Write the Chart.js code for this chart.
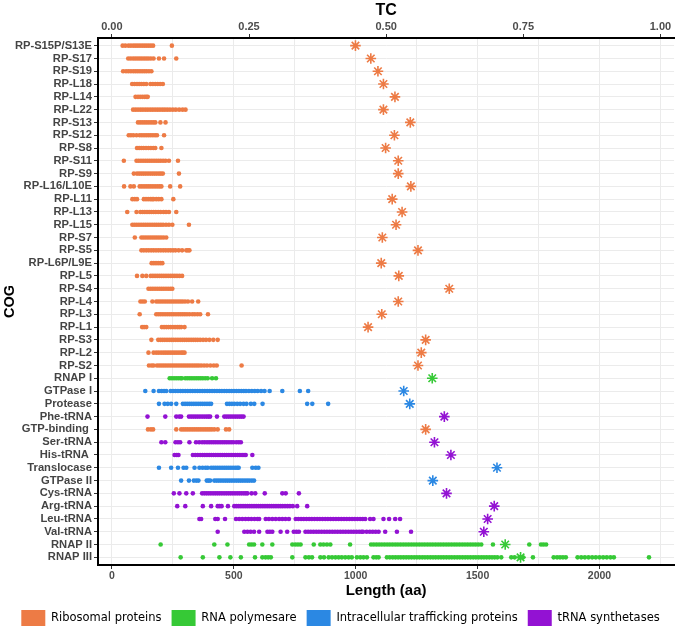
<!DOCTYPE html>
<html>
<head>
<meta charset="utf-8">
<script src="https://cdn.jsdelivr.net/npm/chart.js@4.4.1/dist/chart.umd.min.js"></script>
<style>
  body { margin: 0; background: #fff; }
</style>
</head>
<body>
<canvas id="cogChart" width="681" height="636"></canvas>
<script>
// COG rows, top to bottom
const cogs = ['RP-S15P/S13E', 'RP-S17', 'RP-S19', 'RP-L18', 'RP-L14', 'RP-L22', 'RP-S13', 'RP-S12',
    'RP-S8', 'RP-S11', 'RP-S9', 'RP-L16/L10E', 'RP-L11', 'RP-L13', 'RP-L15', 'RP-S7', 'RP-S5',
    'RP-L6P/L9E', 'RP-L5', 'RP-S4', 'RP-L4', 'RP-L3', 'RP-L1', 'RP-S3', 'RP-L2', 'RP-S2',
    'RNAP I', 'GTPase I', 'Protease', 'Phe-tRNA', 'GTP-binding ', 'Ser-tRNA', 'His-tRNA ',
    'Translocase', 'GTPase II', 'Cys-tRNA', 'Arg-tRNA', 'Leu-tRNA', 'Val-tRNA', 'RNAP II', 'RNAP III'];

// 0 ribosomal, 1 RNA polymerase, 2 trafficking, 3 tRNA synthetases
const cogGroups = [0, 0, 0, 0, 0, 0, 0, 0, 0, 0, 0, 0, 0, 0, 0, 0, 0, 0, 0, 0, 0, 0, 0, 0, 0, 0,
    1, 2, 2, 3, 0, 3, 3, 2, 2, 3, 3, 3, 3, 1, 1];

// TC per COG (top axis)
const tcValues = [0.444, 0.472, 0.485, 0.495, 0.516, 0.495, 0.544, 0.515, 0.499, 0.522, 0.522, 0.545,
    0.511, 0.529, 0.518, 0.493, 0.558, 0.491, 0.523, 0.615, 0.522, 0.492, 0.467, 0.572, 0.564, 0.558,
    0.584, 0.532, 0.543, 0.606, 0.572, 0.588, 0.618, 0.702, 0.585, 0.610, 0.697, 0.685, 0.678, 0.717, 0.745];

// protein lengths (aa) per COG
const lengths = [
    [44, 55, 68, 78, 88, 97, 106, 115, 124, 133, 142, 151, 160, 169, 246],
    [67, 77, 87, 96, 105, 114, 123, 132, 141, 150, 160, 171, 193, 214, 264],
    [46, 58, 68, 78, 88, 97, 106, 115, 124, 133, 142, 152, 162],
    [83, 93, 103, 112, 121, 131, 141, 158, 168, 178, 188, 198, 209],
    [97, 107, 116, 125, 134, 141, 147],
    [87, 97, 107, 117, 127, 137, 147, 157, 167, 177, 187, 197, 207, 217, 227, 238, 250, 262, 276, 290, 302],
    [107, 116, 125, 134, 143, 152, 161, 170, 178, 199, 220],
    [69, 78, 88, 101, 114, 123, 132, 141, 150, 159, 168, 177, 185, 214],
    [103, 112, 121, 130, 140, 150, 160, 170, 178, 203],
    [49, 101, 110, 119, 128, 137, 146, 155, 164, 173, 182, 191, 200, 210, 220, 234, 271],
    [90, 103, 112, 121, 130, 139, 148, 157, 166, 175, 184, 193, 201, 209, 275],
    [50, 76, 90, 114, 123, 132, 141, 150, 159, 168, 177, 186, 195, 203, 239, 280],
    [84, 94, 103, 131, 140, 149, 158, 165, 171, 182, 192, 203, 252],
    [63, 101, 117, 126, 135, 144, 153, 162, 171, 180, 190, 200, 212, 222, 234, 264],
    [84, 93, 102, 111, 120, 129, 138, 147, 156, 165, 174, 183, 192, 201, 210, 222, 234, 248, 316],
    [94, 121, 130, 139, 148, 157, 166, 175, 184, 193, 202, 212, 223],
    [121, 131, 141, 151, 161, 171, 181, 191, 201, 211, 221, 231, 241, 251, 261, 274, 288, 305, 312, 318],
    [163, 172, 181, 190, 199, 207],
    [103, 125, 141, 159, 168, 177, 186, 195, 204, 213, 222, 231, 240, 249, 258, 267, 277, 288],
    [150, 159, 168, 177, 186, 195, 204, 213, 222, 231, 240, 248],
    [117, 126, 135, 166, 182, 191, 200, 209, 218, 227, 236, 245, 254, 263, 272, 281, 290, 300, 312, 329, 354],
    [114, 182, 191, 200, 209, 218, 227, 236, 245, 254, 263, 272, 281, 290, 299, 308, 318, 330, 340, 351, 362, 394],
    [124, 132, 141, 205, 214, 223, 232, 241, 250, 259, 268, 276, 284, 298],
    [162, 190, 199, 208, 217, 226, 235, 244, 253, 262, 271, 280, 289, 298, 307, 316, 325, 334, 343, 352,
        362, 374, 386, 400, 416, 434],
    [150, 171, 182, 192, 202, 212, 221, 230, 239, 248, 257, 266, 275, 284, 291, 298],
    [152, 163, 171, 185, 194, 203, 212, 221, 230, 239, 248, 257, 266, 275, 284, 293, 302, 311, 320, 329,
        338, 347, 356, 366, 378, 390, 404, 418, 430, 532],
    [237, 246, 255, 264, 273, 282, 287, 301, 310, 319, 328, 337, 346, 355, 364, 373, 383, 393, 411, 427],
    [137, 171, 193, 204, 214, 223, 241, 251, 261, 271, 281, 291, 301, 311, 321, 331, 341, 351, 361, 371,
        381, 391, 401, 411, 421, 431, 441, 451, 461, 471, 481, 491, 501, 511, 521, 531, 541, 550, 562, 574,
        586, 598, 612, 626, 647, 699, 771, 805],
    [193, 216, 229, 243, 264, 291, 300, 309, 318, 327, 336, 345, 354, 363, 372, 381, 390, 399, 407,
        472, 482, 492, 502, 514, 526, 540, 552, 570, 584, 618, 801, 822, 887],
    [146, 219, 264, 276, 284, 316, 325, 334, 343, 352, 361, 370, 379, 388, 396, 403, 431,
        461, 470, 479, 488, 497, 506, 515, 524, 532, 540],
    [148, 160, 169, 264, 284, 293, 302, 311, 320, 329, 338, 347, 356, 365, 374, 383, 392, 401, 410, 420,
        434, 468, 481],
    [203, 219, 261, 271, 280, 318, 345, 358, 370, 380, 390, 399, 408, 417, 426, 435, 444, 453, 462, 471,
        480, 489, 498, 510, 520, 529],
    [257, 266, 273, 332, 342, 352, 362, 372, 381, 390, 399, 408, 417, 426, 435, 444, 453, 462, 471, 480,
        489, 498, 507, 516, 525, 534, 542, 549, 576],
    [193, 243, 271, 294, 305, 339, 359, 372, 384, 393, 407, 416, 425, 434, 443, 452, 461, 470, 479, 488,
        497, 506, 514, 520, 576, 590, 601],
    [284, 316, 336, 346, 355, 389, 396, 403, 420, 429, 438, 447, 456, 465, 474, 483, 492, 501, 510, 519,
        528, 537, 546, 555, 564, 574, 583],
    [254, 277, 305, 332, 370, 379, 388, 397, 406, 415, 424, 433, 442, 451, 460, 469, 478, 487, 496, 505,
        514, 523, 532, 541, 549, 556, 573, 588, 627, 699, 713, 767],
    [268, 301, 373, 407, 434, 442, 450, 476, 502, 511, 520, 529, 538, 547, 556, 565, 574, 583, 592, 601,
        610, 619, 628, 637, 646, 655, 664, 673, 682, 691, 700, 710, 720, 730, 742, 760, 801],
    [359, 366, 424, 434, 464, 509, 522, 535, 548, 560, 572, 585, 597, 604, 631, 644, 658, 672, 686, 699,
        712, 726, 754, 765, 776, 787, 798, 809, 820, 831, 842, 853, 864, 875, 886, 897, 908, 919, 930, 941,
        952, 963, 974, 985, 996, 1007, 1018, 1029, 1039, 1059, 1073, 1114, 1137, 1162, 1182],
    [434, 543, 556, 569, 583, 604, 638, 648, 658, 692, 719, 746, 757, 767, 794, 805, 816, 827, 838, 849,
        860, 871, 882, 893, 904, 915, 926, 937, 948, 959, 970, 981, 992, 1003, 1014, 1024, 1030, 1045, 1058,
        1070, 1082, 1094, 1121, 1169, 1227],
    [200, 420, 474, 563, 573, 583, 617, 658, 740, 752, 763, 774, 828, 855, 868, 882, 896, 977,
        1063, 1074, 1085, 1096, 1107, 1118, 1129, 1140, 1151, 1162, 1173, 1184, 1195, 1206, 1217, 1228,
        1239, 1250, 1261, 1272, 1283, 1294, 1305, 1316, 1327, 1338, 1349, 1360, 1371, 1382, 1393, 1404,
        1415, 1426, 1437, 1448, 1459, 1470, 1481, 1492, 1503, 1515, 1563, 1712, 1760, 1770, 1781],
    [282, 373, 441, 486, 529, 587, 617, 630, 641, 652, 740, 794, 808, 821, 855, 870, 889, 903, 917, 930,
        943, 957, 971, 984, 1005, 1019, 1032, 1046, 1073, 1084, 1094, 1128, 1140, 1152, 1163, 1174, 1185,
        1196, 1207, 1218, 1229, 1240, 1251, 1262, 1273, 1284, 1295, 1306, 1317, 1328, 1339, 1350, 1361,
        1372, 1383, 1394, 1405, 1416, 1427, 1438, 1449, 1460, 1471, 1482, 1493, 1504, 1515, 1526, 1537,
        1548, 1559, 1570, 1581, 1597, 1638, 1652, 1672, 1686, 1727, 1812, 1826, 1838, 1850, 1862, 1910,
        1925, 1940, 1955, 1970, 1985, 2000, 2015, 2030, 2045, 2059, 2203]
];

const groupNames = ['Ribosomal proteins', 'RNA polymesare', 'Intracellular trafficking proteins', 'tRNA synthetases'];
const groupColors = ['#ED7B45', '#36C936', '#2B88E3', '#9312D3'];

// TC axis is length / 2250
const lenMin = -57, lenMax = 2306, tcScale = 2250;

const axisFont = 'Liberation Sans, Arial, sans-serif';

// one dots dataset + one star dataset per group
var datasets = [];
groupNames.forEach(function (name, g) {
    var dots = [], stars = [];
    cogs.forEach(function (cog, i) {
        if (cogGroups[i] !== g) return;
        lengths[i].forEach(function (v) { dots.push({x: v, y: i}); });
        stars.push({x: tcValues[i], y: i});
    });
    datasets.push({
        label: name, data: dots, xAxisID: 'x', yAxisID: 'y', order: 2,
        backgroundColor: groupColors[g], borderWidth: 0, pointRadius: 2.3
    });
    datasets.push({
        label: name + ' TC', data: stars, xAxisID: 'x2', yAxisID: 'y', order: 1,
        pointStyle: 'star', pointRadius: 5.3, borderColor: groupColors[g], borderWidth: 1.6
    });
});

var ctx = document.getElementById('cogChart').getContext('2d');
var cogChart = new Chart(ctx, {
    type: 'scatter',
    data: { datasets: datasets },
    options: {
        responsive: false,
        animation: false,
        events: [],
        layout: { padding: { right: 0 } },
        plugins: {
            tooltip: { enabled: false },
            legend: {
                position: 'bottom',
                labels: {
                    boxWidth: 24,
                    boxHeight: 16,
                    padding: 10,
                    color: '#1a1a1a',
                    font: { family: 'DejaVu Sans', size: 11.5 },
                    generateLabels: function () {
                        return groupNames.map(function (name, g) {
                            return { text: name, fillStyle: groupColors[g], strokeStyle: groupColors[g], lineWidth: 0, hidden: false };
                        });
                    }
                }
            }
        },
        scales: {
            x: {
                type: 'linear', position: 'bottom', min: lenMin, max: lenMax,
                ticks: {
                    stepSize: 250, includeBounds: false, autoSkip: false, maxRotation: 0, padding: 1,
                    color: '#4D4D4D', font: { family: axisFont, size: 10.5, weight: 'bold' },
                    callback: function (v) { return v % 500 === 0 ? v : ''; }
                },
                grid: {
                    color: '#EBEBEB', tickLength: 4,
                    tickColor: function (c) { return c.tick && c.tick.value % 500 === 0 ? '#333' : 'rgba(0,0,0,0)'; }
                },
                border: { color: '#000', width: 2 },
                title: { display: true, text: 'Length (aa)', color: '#000', padding: { top: 2, bottom: 0 },
                    font: { family: axisFont, size: 15, weight: 'bold' } },
                afterFit: function (s) { s.height = 35; }
            },
            x2: {
                type: 'linear', position: 'top', min: lenMin / tcScale, max: lenMax / tcScale,
                ticks: {
                    stepSize: 0.25, includeBounds: false, autoSkip: false, maxRotation: 0, padding: 0,
                    color: '#4D4D4D', font: { family: axisFont, size: 11, weight: 'bold' },
                    callback: function (v) { return v.toFixed(2); }
                },
                grid: { drawOnChartArea: false, tickLength: 4, tickColor: '#333' },
                border: { color: '#000', width: 2 },
                title: { display: true, text: 'TC', color: '#000', padding: { top: 1, bottom: 0 },
                    font: { family: axisFont, size: 16, weight: 'bold' } },
                afterFit: function (s) { s.height = 38; }
            },
            y: {
                type: 'linear', reverse: true, min: -0.6, max: 40.6,
                ticks: {
                    stepSize: 1, includeBounds: false, autoSkip: false, padding: 2,
                    color: '#444', font: { family: axisFont, size: 11.2, weight: 'bold' },
                    callback: function (v) { return cogs[v]; }
                },
                grid: { color: '#EBEBEB', tickLength: 4, tickColor: '#333' },
                border: { color: '#000', width: 2 },
                title: { display: true, text: 'COG', color: '#000', padding: { top: 1, bottom: 0 },
                    font: { family: axisFont, size: 14.5, weight: 'bold' } },
                afterFit: function (s) { s.width = 98; }
            }
        }
    }
});
</script>
</body>
</html>
